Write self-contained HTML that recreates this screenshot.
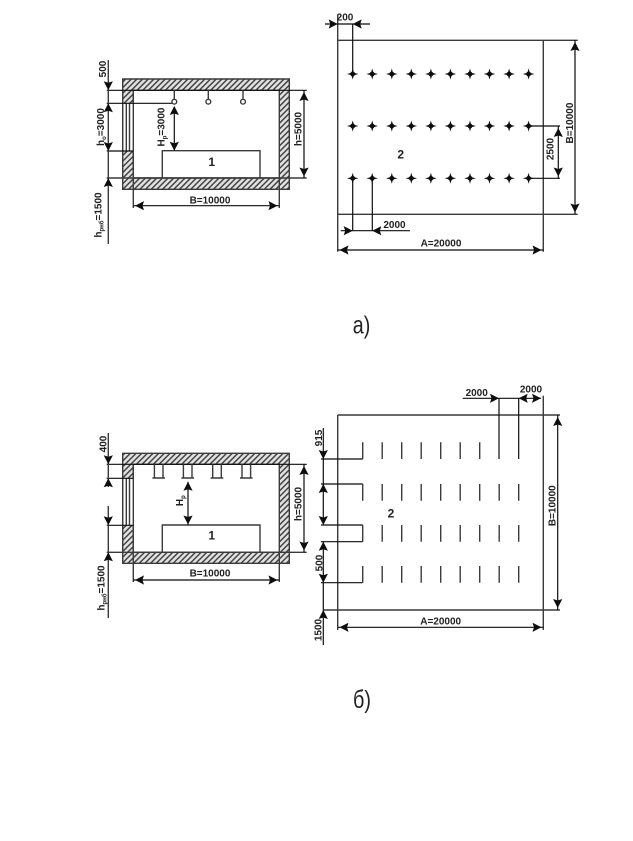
<!DOCTYPE html>
<html><head><meta charset="utf-8"><style>
html,body{margin:0;padding:0;background:#fff}
svg{display:block}
text{font-family:"Liberation Sans",sans-serif;font-weight:bold;font-size:10px;fill:#222;text-anchor:middle}
.l{fill:none;stroke:#3a3a3a;stroke-width:1.4}
.d{fill:none;stroke:#111;stroke-width:1.2}
.w{fill:url(#h);stroke:#3a3a3a;stroke-width:1.4}
</style></head><body>
<svg width="633" height="841" viewBox="0 0 633 841" xmlns="http://www.w3.org/2000/svg">
<defs>
<filter id="b" x="0" y="0" width="100%" height="100%"><feGaussianBlur stdDeviation="0.35"/></filter>
<pattern id="h" width="4" height="4" patternUnits="userSpaceOnUse" patternTransform="rotate(45)"><rect width="4" height="4" fill="#e2e2e2"/><rect width="1.5" height="4" fill="#444"/></pattern>
<g id="s"><circle r="2.4" fill="#111"/><path d="M0-5.5L1.2-1.2L5.8 0L1.2 1.2L0 5.5L-1.2 1.2L-5.8 0L-1.2-1.2Z" fill="#111"/></g>
<path id="au" d="M0 0L4.6 9L0 7.5L-4.6 9Z" fill="#111"/>
<path id="ad" d="M0 0L4.6-9L0-7.5L-4.6-9Z" fill="#111"/>
<path id="al" d="M0 0L9-4.6L7.5 0L9 4.6Z" fill="#111"/>
<path id="ar" d="M0 0L-9-4.6L-7.5 0L-9 4.6Z" fill="#111"/>
</defs>
<g filter="url(#b)">
<!-- a) left -->
<path class="w" d="M122.7 79H289.3V189.3H122.7ZM133.3 90.3V178H279.3V90.3Z" fill-rule="evenodd"/>
<rect x="123.3" y="103.3" width="9.7" height="47.7" fill="#fff"/>
<path class="l" d="M122.7 103.3V151M126.3 103.3V151M129.5 103.3V151M133.3 90.3V208M279.3 178V208"/>
<path class="d" d="M106.7 90.3H306.7M106.7 103.3H172M106.7 151H133.3"/>
<path class="l" d="M106.7 178H306.7M108.3 60V244"/>
<path class="l" d="M162.3 178V150.7H260V178"/>
<path class="l" d="M174.3 90.3V99M208.3 90.3V99M243 90.3V99"/>
<circle class="l" cx="174.3" cy="101.7" r="2.4"/><circle class="l" cx="208.3" cy="101.7" r="2.4"/><circle class="l" cx="243" cy="101.7" r="2.4"/>
<path class="d" d="M174.3 106.7V150.7M304 90.3V178M133.3 205.7H279.3"/>
<use href="#ad" x="108.3" y="90.3"/><use href="#au" x="108.3" y="103.3"/><use href="#ad" x="108.3" y="151"/><use href="#au" x="108.3" y="178"/>
<use href="#au" x="174.3" y="106"/><use href="#ad" x="174.3" y="150.7"/>
<use href="#au" x="304" y="92"/><use href="#ad" x="304" y="176.5"/>
<use href="#al" x="135" y="205.7"/><use href="#ar" x="277.5" y="205.7"/>
<text transform="translate(102.3 69) rotate(-90)" y="3.6">500</text>
<text transform="translate(100.5 127) rotate(-90)" y="3.6">h<tspan font-size="6" dy="2">о</tspan><tspan dy="-2">=3000</tspan></text>
<text transform="translate(161 127) rotate(-90)" y="3.6">H<tspan font-size="6" dy="2">р</tspan><tspan dy="-2">=3000</tspan></text>
<text transform="translate(298 129) rotate(-90)" y="3.6">h=5000</text>
<text transform="translate(98 215) rotate(-90)" y="3.6">h<tspan font-size="6" dy="2">рнб</tspan><tspan dy="-2">=1500</tspan></text>
<text x="210" y="203.6">B=10000</text>
<text x="211.7" y="166" style="font-size:12px">1</text>

<!-- a) right -->
<path class="l" d="M337.7 15V251.7M543.3 40.3V251.7M337.7 40.3H577.7M337.7 214.3H577.7"/>
<path class="d" d="M325 24H370M352.7 24V74M575 40.3V214.3M528.3 126H560M528.3 178.3H560M558.3 126V178.3M340.7 230.7H410M352.7 178.3V230.7M372.3 178.3V230.7M337.7 250H543.3"/>
<use href="#ar" x="337.7" y="24"/><use href="#al" x="352.7" y="24"/>
<use href="#au" x="575" y="42"/><use href="#ad" x="575" y="212.5"/>
<use href="#au" x="558.3" y="128"/><use href="#ad" x="558.3" y="176.5"/>
<use href="#ar" x="352.7" y="230.7"/><use href="#al" x="372.3" y="230.7"/>
<use href="#al" x="339.5" y="250"/><use href="#ar" x="541.5" y="250"/>
<use href="#s" x="352.7" y="74"/><use href="#s" x="372.2" y="74"/><use href="#s" x="391.8" y="74"/><use href="#s" x="411.3" y="74"/><use href="#s" x="430.9" y="74"/><use href="#s" x="450.4" y="74"/><use href="#s" x="470" y="74"/><use href="#s" x="489.5" y="74"/><use href="#s" x="509.1" y="74"/><use href="#s" x="528.6" y="74"/>
<use href="#s" x="352.7" y="126"/><use href="#s" x="372.2" y="126"/><use href="#s" x="391.8" y="126"/><use href="#s" x="411.3" y="126"/><use href="#s" x="430.9" y="126"/><use href="#s" x="450.4" y="126"/><use href="#s" x="470" y="126"/><use href="#s" x="489.5" y="126"/><use href="#s" x="509.1" y="126"/><use href="#s" x="528.6" y="126"/>
<use href="#s" x="352.7" y="178.3"/><use href="#s" x="372.2" y="178.3"/><use href="#s" x="391.8" y="178.3"/><use href="#s" x="411.3" y="178.3"/><use href="#s" x="430.9" y="178.3"/><use href="#s" x="450.4" y="178.3"/><use href="#s" x="470" y="178.3"/><use href="#s" x="489.5" y="178.3"/><use href="#s" x="509.1" y="178.3"/><use href="#s" x="528.6" y="178.3"/>
<text x="345" y="20.3">200</text>
<text x="400.7" y="158.5" style="font-size:12px">2</text>
<text x="394.5" y="228">2000</text>
<text x="441" y="246.6">A=20000</text>
<text transform="translate(550 149) rotate(-90)" y="3.6">2500</text>
<text transform="translate(569.3 123) rotate(-90)" y="3.6">B=10000</text>
<text x="361.5" y="333.5" textLength="17.5" lengthAdjust="spacingAndGlyphs" style="font-size:25px;font-weight:normal">а)</text>

<!-- b) left -->
<path class="w" d="M122.7 453.3H289.3V563.3H122.7ZM133.3 464.3V552.3H279.3V464.3Z" fill-rule="evenodd"/>
<rect x="123.3" y="478.3" width="9.7" height="47" fill="#fff"/>
<path class="l" d="M122.7 478.3V525.3M126.3 478.3V525.3M129.5 478.3V525.3M133.3 464.3V582M279.3 552.3V582"/>
<path class="d" d="M106.7 464.3H306.7M106.7 478.3H133.3M106.7 525.3H133.3"/>
<path class="l" d="M106.7 552.3H306.7M108.3 433V487M108.3 506V618"/>
<path class="l" d="M162.3 552.3V525H260V552.3"/>
<path class="l" d="M154.4 464.3V478M163 464.3V478M152.4 478H165M183.4 464.3V478M192 464.3V478M181.4 478H194M212.7 464.3V478M221.3 464.3V478M210.7 478H223.3M242 464.3V478M250.6 464.3V478M240 478H252.6"/>
<path class="d" d="M188 481.7V525M304 464.3V552.3M133.3 580H279.3"/>
<use href="#ad" x="108.3" y="464.3"/><use href="#au" x="108.3" y="478.3"/><use href="#ad" x="108.3" y="525.3"/><use href="#au" x="108.3" y="552.3"/>
<use href="#au" x="188" y="481.7"/><use href="#ad" x="188" y="524.5"/>
<use href="#au" x="304" y="466"/><use href="#ad" x="304" y="550.5"/>
<use href="#al" x="135" y="580"/><use href="#ar" x="277.5" y="580"/>
<text transform="translate(103 444) rotate(-90)" y="3.6">400</text>
<text transform="translate(179.5 500.7) rotate(-90)" y="3.6">H<tspan font-size="6" dy="2">р</tspan></text>
<text transform="translate(298 504) rotate(-90)" y="3.6">h=5000</text>
<text transform="translate(100.7 588) rotate(-90)" y="3.6">h<tspan font-size="6" dy="2">рнб</tspan><tspan dy="-2">=1500</tspan></text>
<text x="210" y="576.6">B=10000</text>
<text x="211.7" y="539.3" style="font-size:12px">1</text>

<!-- b) right -->
<path class="l" d="M337.7 415V630M543.3 395.7V630M337.7 415H560M323 610H560"/>
<path class="d" d="M323.3 428V521.7M323.3 541.7V645M321 459H362.7M321 484H362.7M321 525H362.7M321 541.7H362.7M321 582.7H362.7M557.7 415V610M337.7 627.3H543.3M462.7 398.3H541M499 398.3V459M518.7 398.3V459"/>
<path class="l" d="M362.7 442.3V459M382.2 442.3V459M401.7 442.3V459M421.2 442.3V459M440.7 442.3V459M460.2 442.3V459M479.7 442.3V459M362.7 484V500.7M382.2 484V500.7M401.7 484V500.7M421.2 484V500.7M440.7 484V500.7M460.2 484V500.7M479.7 484V500.7M499.2 484V500.7M518.7 484V500.7M362.7 525V541.7M382.2 525V541.7M401.7 525V541.7M421.2 525V541.7M440.7 525V541.7M460.2 525V541.7M479.7 525V541.7M499.2 525V541.7M518.7 525V541.7M362.7 566V582.7M382.2 566V582.7M401.7 566V582.7M421.2 566V582.7M440.7 566V582.7M460.2 566V582.7M479.7 566V582.7M499.2 566V582.7M518.7 566V582.7"/>
<use href="#ad" x="323.3" y="459"/><use href="#au" x="323.3" y="484"/><use href="#ad" x="323.3" y="525"/><use href="#au" x="323.3" y="541.7"/><use href="#ad" x="323.3" y="582.7"/><use href="#au" x="323.3" y="610"/>
<use href="#au" x="557.7" y="417"/><use href="#ad" x="557.7" y="608"/>
<use href="#al" x="339.5" y="627.3"/><use href="#ar" x="541.5" y="627.3"/>
<use href="#ar" x="499" y="398.3"/><use href="#al" x="518.7" y="398.3"/><use href="#ar" x="541" y="398.3"/>
<text x="476.7" y="395.9">2000</text>
<text x="531" y="392.6">2000</text>
<text transform="translate(318.3 438) rotate(-90)" y="3.6">915</text>
<text transform="translate(319 563) rotate(-90)" y="3.6">500</text>
<text transform="translate(318 630) rotate(-90)" y="3.6">1500</text>
<text x="391" y="517.5" style="font-size:12px">2</text>
<text transform="translate(551.7 505.7) rotate(-90)" y="3.6">B=10000</text>
<text x="440.7" y="624.3">A=20000</text>
<text x="362" y="708" textLength="18" lengthAdjust="spacingAndGlyphs" style="font-size:25px;font-weight:normal">б)</text>
</g>
</svg>
</body></html>
